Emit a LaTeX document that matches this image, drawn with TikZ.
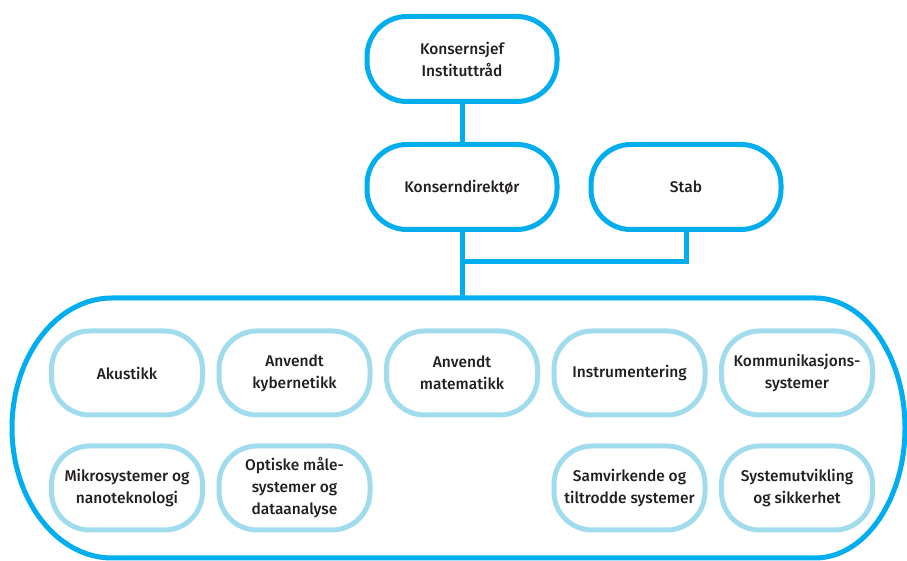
\documentclass[tikz,border=0pt]{standalone}
\usepackage{fontspec}
\setmainfont{Fira Sans}[UprightFont={* Medium}]
\definecolor{darkcyan}{HTML}{00AEEF}
\definecolor{lightcyan}{HTML}{A0DCEE}
\definecolor{txt}{HTML}{231F20}
\begin{document}
\begin{tikzpicture}[x=1pt,y=1pt,
  topbox/.style={draw=darkcyan,line width=5pt,rounded corners=40pt,minimum width=190pt,minimum height=85pt,align=center,text=txt,font=\fontsize{15.5}{22}\selectfont,fill=white},
  unitbox/.style={draw=lightcyan,line width=5pt,rounded corners=38pt,minimum width=151pt,minimum height=84pt,align=center,text=txt,font=\fontsize{15.5}{22}\selectfont,fill=white,inner sep=1pt},
  conn/.style={draw=darkcyan,line width=5pt}]
\useasboundingbox (0,0) rectangle (907,561);
% container
\draw[conn] (112,263) -- (815,263) arc[start angle=90,end angle=-90,x radius=90,y radius=130] -- (112,3) arc[start angle=270,end angle=90,x radius=100,y radius=130] -- cycle;
\coordinate (bus) at (462,263);
\node[topbox] (top) at (462,502) {Konsernsjef\\Instituttråd};
\node[topbox] (dir) at (462,374) {Konserndirektør};
\node[topbox] (stab) at (686,374) {Stab};
\coordinate (join) at (462,299);
\draw[conn] (top) -- (dir);
\draw[conn] (dir) -- (bus);
\draw[conn,line join=miter] (stab.south) |- (join);
\node[unitbox] (u1) at (127,188) {Akustikk};
\node[unitbox] (u2) at (294.5,188) {Anvendt\\kybernetikk};
\node[unitbox] (u3) at (462,188) {Anvendt\\matematikk};
\node[unitbox] (u4) at (629.5,188) {Instrumentering};
\node[unitbox] (u5) at (797,188) {Kommunikasjons-\\systemer};
\node[unitbox] (u6) at (127,73) {Mikrosystemer og\\nanoteknologi};
\node[unitbox] (u7) at (294.5,73) {Optiske måle-\\systemer og\\dataanalyse};
\node[unitbox] (u8) at (629.5,73) {Samvirkende og\\tiltrodde systemer};
\node[unitbox] (u9) at (797,73) {Systemutvikling\\og sikkerhet};
\end{tikzpicture}
\end{document}
